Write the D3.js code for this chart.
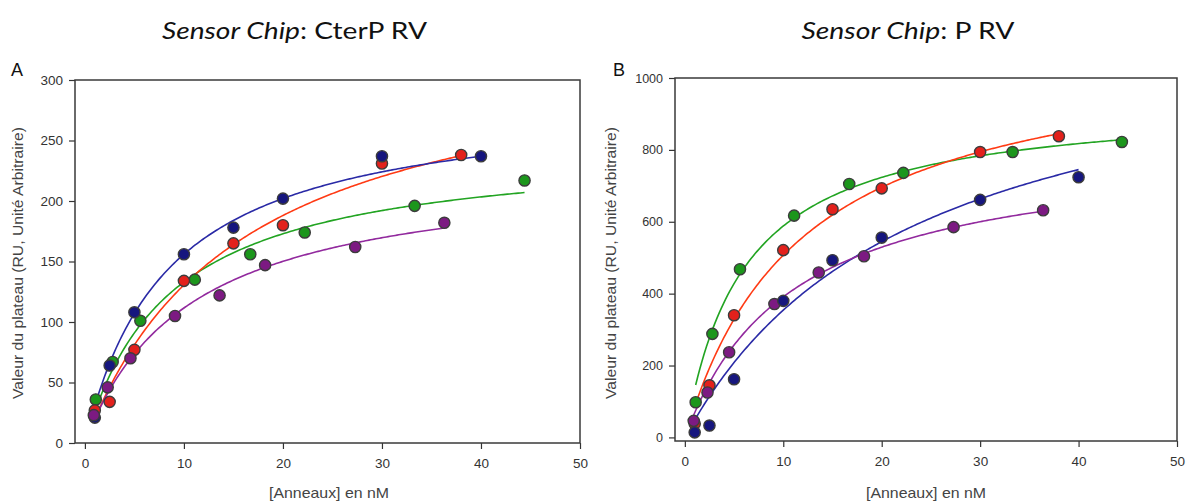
<!DOCTYPE html>
<html><head><meta charset="utf-8">
<script src="https://cdn.jsdelivr.net/npm/d3@7"></script>
<style>
html,body{margin:0;padding:0;background:#fff;}
svg{display:block;}
</style></head>
<body>
<svg id="chart" width="1186" height="502"></svg>
<script>
// ---------- DATA ----------
const xTicks = [0, 10, 20, 30, 40, 50];
const yTicksA = [0, 50, 100, 150, 200, 250, 300];
const yTicksB = [0, 200, 400, 600, 800, 1000];
const seriesKeys = ["green", "red", "blue", "purple"];

// Panel A (CterP RV)
const xBlueA = [1, 2.5, 5, 10, 15, 20, 30, 40];
const yBlueA = [21, 64, 108, 156, 178, 202, 237, 237];
const xRedA = [1, 2.5, 5, 10, 15, 20, 30, 38];
const yRedA = [27, 34, 77, 134, 165, 180, 231, 238];
const xGreenA = [1.1, 2.8, 5.6, 11.1, 16.7, 22.2, 33.3, 44.4];
const yGreenA = [36, 67, 101, 135, 156, 174, 196, 217];
const xPurpleA = [0.9, 2.3, 4.6, 9.1, 13.6, 18.2, 27.3, 36.3];
const yPurpleA = [23, 46, 70, 105, 122, 147, 162, 182];
// fitted one-site binding parameters (Bmax, Kd)
const bmaxA = {blue: 286.6, red: 335.6, green: 246.9, purple: 229.3};
const kdA = {blue: 8.37, red: 15.7, green: 8.56, purple: 10.55};

// Panel B (P RV)
const xBlueB = [1, 2.5, 5, 10, 15, 20, 30, 40];
const yBlueB = [14, 33, 162, 380, 493, 556, 661, 724];
const xRedB = [1, 2.5, 5, 10, 15, 20, 30, 38];
const yRedB = [38, 145, 340, 521, 635, 693, 794, 838];
const xGreenB = [1.1, 2.8, 5.6, 11.1, 16.7, 22.2, 33.3, 44.4];
const yGreenB = [98, 288, 468, 617, 705, 736, 794, 822];
const xPurpleB = [0.9, 2.3, 4.5, 9.1, 13.6, 18.2, 27.3, 36.4];
const yPurpleB = [46, 125, 237, 371, 459, 504, 585, 632];
const bmaxB = {blue: 1179, red: 1108.8, green: 939.7, purple: 818.8};
const kdB = {blue: 23.3, red: 11.87, green: 5.98, purple: 10.94};

// ---------- STYLE ----------
const pointFill = {blue: "#16167e", red: "#e3211c", green: "#1c961c", purple: "#7c1a82"};
const lineColor = {blue: "#2a2aa6", red: "#ff3a14", green: "#22a422", purple: "#922a9e"};
const sansFont = "'Liberation Sans', Arial, sans-serif";

const svg = d3.select("#chart");
svg.append("rect").attr("width", 1186).attr("height", 502).attr("fill", "#fff");

function drawPanel(cfg) {
  const x = d3.scaleLinear().domain([-1, 50]).range([cfg.left, cfg.right]);
  const y = d3.scaleLinear().domain(cfg.yDomain).range([cfg.bottom, cfg.top]);
  const g = svg.append("g");

  // title
  const t = g.append("text")
    .attr("x", cfg.titleX)
    .attr("y", 38.5)
    .attr("text-anchor", "middle")
    .attr("textLength", cfg.titleLen)
    .attr("lengthAdjust", "spacingAndGlyphs")
    .style("font-family", "Lato, 'Open Sans', sans-serif")
    .style("font-size", "22.5px")
    .attr("fill", "#111");
  t.append("tspan").style("font-style", "italic").text("Sensor Chip");
  t.append("tspan").text(": " + cfg.title);

  // panel letter
  g.append("text").attr("x", cfg.letterX).attr("y", 76)
    .style("font-family", sansFont)
    .style("font-size", "18px").attr("fill", "#111").text(cfg.letter);

  // axes
  const yAxis = d3.axisLeft(y).tickValues(cfg.yTicks).tickFormat(d3.format("d"))
    .tickSize(6).tickPadding(6).tickSizeOuter(0);
  const xAxis = d3.axisBottom(x).tickValues(xTicks).tickFormat(d3.format("d"))
    .tickSize(6).tickPadding(9).tickSizeOuter(0);
  const ya = g.append("g").attr("transform", `translate(${cfg.left},0)`).call(yAxis);
  const xa = g.append("g").attr("transform", `translate(0,${cfg.bottom})`).call(xAxis);
  [ya, xa].forEach(a => {
    a.select(".domain").remove();
    a.selectAll("line").attr("stroke", "#333").attr("stroke-width", 1.2);
    a.selectAll("text").style("font-family", sansFont).attr("fill", "#333");
  });
  ya.selectAll("text").style("font-size", cfg.yTickFont);
  xa.selectAll("text").style("font-size", "13.5px");

  // frame
  g.append("rect").attr("x", cfg.left).attr("y", cfg.top)
    .attr("width", cfg.right - cfg.left).attr("height", cfg.bottom - cfg.top)
    .attr("fill", "none").attr("stroke", "#3a3a3a").attr("stroke-width", 1.5);

  // axis titles
  g.append("text")
    .attr("transform", `translate(${cfg.yLabelX},263) rotate(-90)`)
    .attr("text-anchor", "middle")
    .attr("textLength", 272)
    .attr("lengthAdjust", "spacingAndGlyphs")
    .style("font-family", sansFont)
    .style("font-size", "14px").attr("fill", "#444")
    .text("Valeur du plateau (RU, Unité Arbitraire)");
  g.append("text")
    .attr("x", cfg.xLabelX).attr("y", 498)
    .attr("text-anchor", "middle")
    .attr("textLength", 120)
    .attr("lengthAdjust", "spacingAndGlyphs")
    .style("font-family", sansFont)
    .style("font-size", "14.5px").attr("fill", "#444")
    .text("[Anneaux] en nM");

  // fitted curves
  const line = d3.line().x(d => x(d[0])).y(d => y(d[1]));
  seriesKeys.forEach(k => {
    const xs = cfg.xs[k];
    const x0 = d3.min(xs), x1 = d3.max(xs);
    const B = cfg.bmax[k], K = cfg.kd[k];
    const pts = d3.range(0, 201).map(i => {
      const xv = x0 + (x1 - x0) * i / 200;
      return [xv, B * xv / (K + xv)];
    });
    g.append("path").datum(pts).attr("d", line)
      .attr("fill", "none").attr("stroke", lineColor[k]).attr("stroke-width", 1.6);
  });

  // points
  cfg.order.forEach(k => {
    const data = cfg.xs[k].map((xv, i) => [xv, cfg.ys[k][i]]);
    g.selectAll(null).data(data).enter().append("circle")
      .attr("cx", d => x(d[0])).attr("cy", d => y(d[1])).attr("r", 5.6)
      .attr("fill", pointFill[k]).attr("stroke", "#3c3c3c").attr("stroke-width", 1.4);
  });
}

drawPanel({
  left: 75, right: 580, top: 80, bottom: 443, yDomain: [0, 300], yTicks: yTicksA,
  title: "CterP RV", titleX: 294.5, titleLen: 265, letter: "A", letterX: 11,
  yLabelX: 23, xLabelX: 329, yTickFont: "13.5px",
  xs: {blue: xBlueA, red: xRedA, green: xGreenA, purple: xPurpleA},
  ys: {blue: yBlueA, red: yRedA, green: yGreenA, purple: yPurpleA},
  bmax: bmaxA, kd: kdA, order: ["green", "red", "blue", "purple"]
});
drawPanel({
  left: 675, right: 1177, top: 78, bottom: 441, yDomain: [-10, 1000], yTicks: yTicksB,
  title: "P RV", titleX: 908, titleLen: 213, letter: "B", letterX: 613,
  yLabelX: 616, xLabelX: 926, yTickFont: "12.5px",
  xs: {blue: xBlueB, red: xRedB, green: xGreenB, purple: xPurpleB},
  ys: {blue: yBlueB, red: yRedB, green: yGreenB, purple: yPurpleB},
  bmax: bmaxB, kd: kdB, order: ["red", "green", "purple", "blue"]
});
</script>
</body></html>
